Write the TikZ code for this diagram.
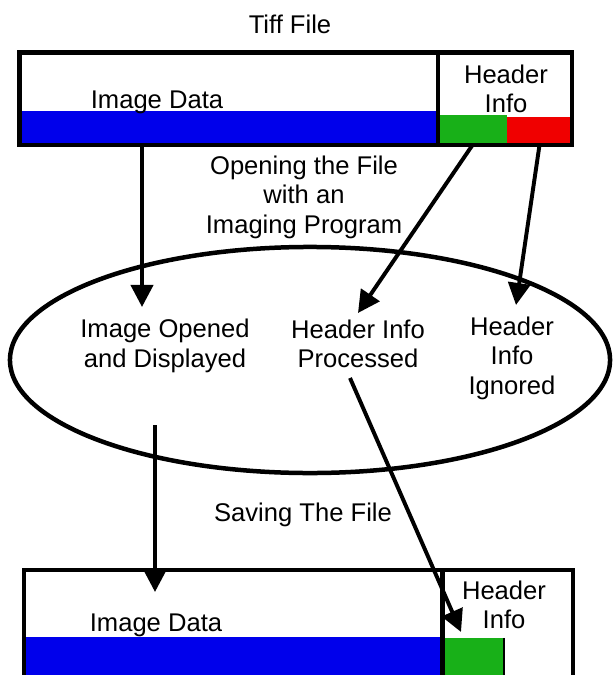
\documentclass[tikz,border=0pt]{standalone}
\usepackage{fontspec}
\setmainfont{Liberation Sans}
\usetikzlibrary{arrows.meta}
\usetikzlibrary{shapes.geometric}
\definecolor{barblue}{RGB}{0,0,235}
\definecolor{bargreen}{RGB}{24,176,24}
\definecolor{barred}{RGB}{240,0,0}

\begin{document}
\begin{tikzpicture}[x=0.025cm, y=-0.025cm]
\tikzstyle{part}=[draw, line width=3.4pt, inner sep=0, outer sep=0, anchor=north west]
\tikzstyle{bar}=[inner sep=0, outer sep=0, anchor=south west]
\tikzstyle{txt}=[inner sep=0, align=center, font=\fontsize{18.2pt}{21pt}\selectfont]
\tikzstyle{flow}=[line width=2.8pt, -{Triangle[length=0.55cm, width=0.55cm]}]

\useasboundingbox (0,0) rectangle (616,675);

	%bars
	\node[bar, fill=barblue, minimum width=10.46cm, minimum height=0.85cm] (blue_top) at (19.5,145) {};
	\node[bar, fill=bargreen, minimum width=1.725cm, minimum height=0.75cm] (green_top) at (438,145) {};
	\node[bar, fill=barred, minimum width=1.625cm, minimum height=0.7cm] (red_top) at (507,145) {};
	\node[bar, fill=barblue, minimum width=10.45cm, minimum height=1.325cm] (blue_bot) at (24,690) {};
	\node[bar, fill=bargreen, minimum width=1.55cm, minimum height=1.3cm] (green_bot) at (442,690) {};
	\draw[line width=2pt] (green_bot.north east) -- (green_bot.south east);

	%boxes
	\node[part, minimum width=10.46cm, minimum height=2.31cm] (image_top) at (19.5,52.5) {};
	\node[part, minimum width=3.35cm, minimum height=2.31cm] (header_top) at (438,52.5) {};
	\node[part, minimum width=10.45cm, minimum height=3cm] (image_bot) at (24,570) {};
	\node[part, minimum width=3.275cm, minimum height=3cm] (header_bot) at (442,570) {};
	\node[draw, ellipse, line width=3.2pt, inner sep=0, minimum width=15cm, minimum height=5.65cm] (program) at (310,360) {};

	%texts
	\node[txt] (title) at (290,24) {Tiff File};
	\node[txt] (data_top) at (157,102) {Image Data};
	\node[txt] (info_top) at (506,89) {Header\\Info};
	\node[txt] (opening) at (304,197) {Opening the File\\with an\\Imaging Program};
	\node[txt] (shown) at (165,346) {Image Opened\\and Displayed};
	\node[txt] (processed) at (358,344) {Header Info\\Processed};
	\node[txt] (ignored) at (512,358) {Header\\Info\\Ignored};
	\node[txt] (saving) at (303,515) {Saving The File};
	\node[txt] (data_bot) at (156,625) {Image Data};
	\node[txt] (info_bot) at (504,605) {Header\\Info};

	%paths
	\coordinate (shown_tip) at (142,307);
	\coordinate (processed_tip) at (358,313);
	\coordinate (ignored_tip) at (516,305);
	\coordinate (save_from) at (155,425);
	\coordinate (save_tip) at (155,592);
	\coordinate (header_from) at (350,378);
	\coordinate (header_tip) at (461,632);
	\draw[flow] (image_top.south -| shown_tip) -- (shown_tip);
	\draw[flow] (green_top.south) -- (processed_tip);
	\draw[flow] (red_top.south) -- (ignored_tip);
	\draw[flow] (save_from) -- (save_tip);
	\draw[flow] (header_from) -- (header_tip);

\end{tikzpicture}
\end{document}
